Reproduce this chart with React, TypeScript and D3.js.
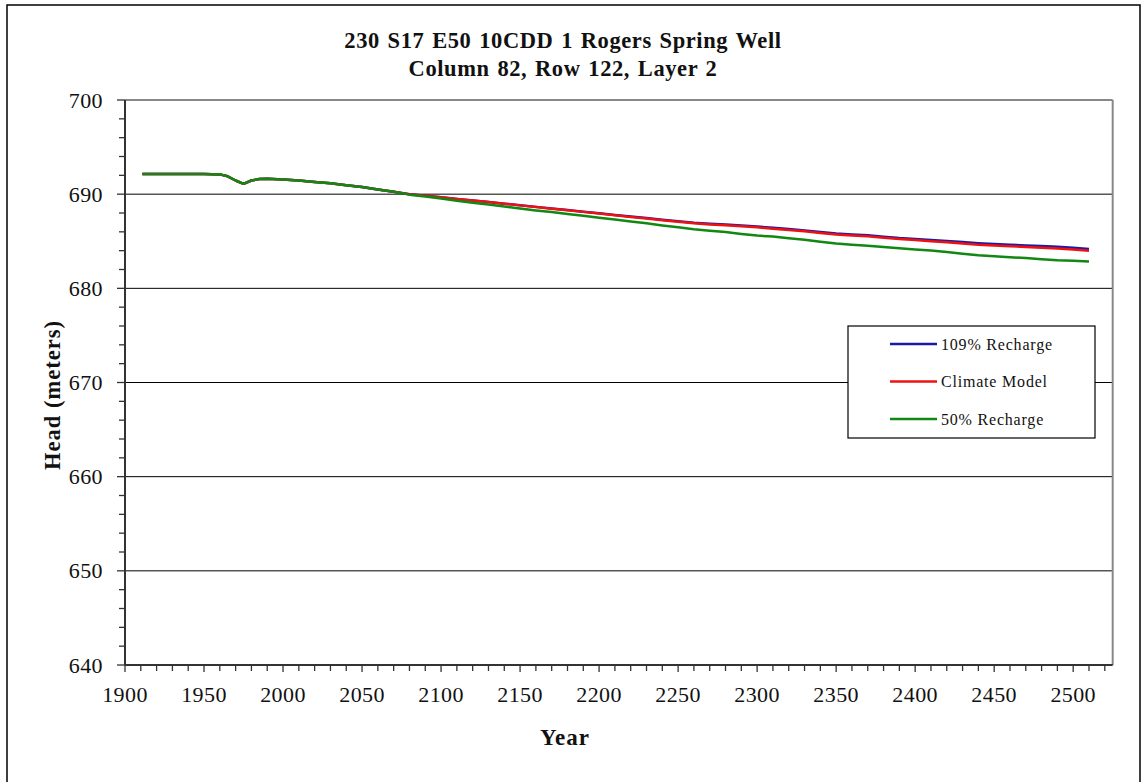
import React from "react";
import * as d3 from "d3";

const years = [1911, 1920, 1930, 1940, 1950, 1960, 1965, 1970, 1975, 1980, 1985, 1990, 2000,
  2010, 2020, 2030, 2040, 2050, 2060, 2070, 2080, 2090, 2100, 2110, 2120, 2130, 2140, 2150,
  2160, 2170, 2180, 2190, 2200, 2210, 2220, 2230, 2240, 2250, 2260, 2270, 2280, 2290, 2300,
  2310, 2320, 2330, 2340, 2350, 2360, 2370, 2380, 2390, 2400, 2410, 2420, 2430, 2440, 2450,
  2460, 2470, 2480, 2490, 2500, 2510];

const recharge109 = [692.15, 692.15, 692.15, 692.15, 692.15, 692.1, 691.9, 691.45, 691.1, 691.45, 691.6, 691.65, 691.55,
  691.45, 691.3, 691.15, 690.95, 690.75, 690.5, 690.25, 690.0, 689.83, 689.66, 689.5, 689.33, 689.16, 688.99, 688.82,
  688.65, 688.48, 688.31, 688.14, 687.97, 687.8, 687.63, 687.46, 687.29, 687.12, 686.97, 686.86, 686.77, 686.67, 686.56,
  686.43, 686.29, 686.15, 685.98, 685.82, 685.73, 685.63, 685.49, 685.35, 685.25, 685.14, 685.03, 684.91, 684.8, 684.72,
  684.64, 684.56, 684.49, 684.41, 684.3, 684.17];

const climateModel = [692.15, 692.15, 692.15, 692.15, 692.15, 692.1, 691.9, 691.45, 691.1, 691.45, 691.6, 691.65, 691.55,
  691.45, 691.3, 691.15, 690.95, 690.75, 690.5, 690.25, 690.0, 689.83, 689.66, 689.5, 689.33, 689.16, 688.99, 688.81,
  688.63, 688.46, 688.29, 688.12, 687.94, 687.76, 687.58, 687.41, 687.23, 687.06, 686.9, 686.79, 686.69, 686.59, 686.48,
  686.34, 686.2, 686.06, 685.88, 685.72, 685.62, 685.52, 685.38, 685.23, 685.13, 685.01, 684.89, 684.76, 684.64, 684.56,
  684.47, 684.39, 684.31, 684.23, 684.12, 683.99];

const recharge50 = [692.15, 692.15, 692.15, 692.15, 692.15, 692.1, 691.9, 691.45, 691.1, 691.45, 691.6, 691.65, 691.55,
  691.45, 691.3, 691.15, 690.95, 690.75, 690.5, 690.25, 689.95, 689.75, 689.53, 689.3, 689.1, 688.9, 688.68, 688.47,
  688.27, 688.1, 687.9, 687.7, 687.5, 687.3, 687.1, 686.9, 686.68, 686.48, 686.28, 686.12, 685.97, 685.78, 685.6,
  685.5, 685.33, 685.15, 684.95, 684.75, 684.64, 684.52, 684.38, 684.25, 684.13, 684.01, 683.85, 683.68, 683.52, 683.4,
  683.3, 683.22, 683.1, 682.98, 682.92, 682.84];

const seriesNames = ["109% Recharge", "Climate Model", "50% Recharge"];
const seriesColors = ["#1a1aa8", "#ee1111", "#118811"];
const seriesValues = [recharge109, climateModel, recharge50];

const xTickLabels = [1900, 1950, 2000, 2050, 2100, 2150, 2200, 2250, 2300, 2350, 2400, 2450, 2500];
const yTickLabels = [640, 650, 660, 670, 680, 690, 700];

const titleLines = ["230 S17 E50 10CDD 1 Rogers Spring Well", "Column 82, Row 122, Layer 2"];

export default function App() {
  const W = 1148, H = 782;
  const left = 125, right = 1112.7, top = 100, bottom = 665;
  const x = d3.scaleLinear().domain([1900, 2525]).range([left, right]);
  const y = d3.scaleLinear().domain([640, 700]).range([bottom, top]);
  const font = "'Liberation Serif', 'Times New Roman', serif";

  const line = d3.line<[number, number]>().x(d => x(d[0])).y(d => y(d[1]));

  const minorX = d3.range(1900, 2521, 10);
  const minorY = d3.range(640, 701, 2);

  return (
    <svg width={W} height={H} style={{ position: "absolute", left: 0, top: 0, background: "#fff" }}
      fontFamily={font}>
      <rect x={7} y={5} width={1133} height={800} fill="#fff" stroke="#000" strokeWidth={1.5} />
      {yTickLabels.filter(v => v > 640 && v < 700).map(v => (
        <line key={"g" + v} x1={left} x2={right} y1={y(v)} y2={y(v)} stroke="#000" strokeWidth={1} />
      ))}
      <line x1={left} x2={right} y1={top} y2={top} stroke="#888" strokeWidth={2} />
      <line x1={right} x2={right} y1={top} y2={bottom} stroke="#888" strokeWidth={2} />
      {seriesValues.map((vals, i) => (
        <path key={seriesNames[i]} d={line(years.map((yr, j) => [yr, vals[j]] as [number, number])) || ""}
          fill="none" stroke={seriesColors[i]} strokeWidth={2.5} strokeLinejoin="round" />
      ))}
      <line x1={left} x2={left} y1={top} y2={bottom} stroke="#333" strokeWidth={2} />
      <line x1={left} x2={right} y1={bottom} y2={bottom} stroke="#333" strokeWidth={2} />
      {minorX.map(v => (
        <line key={"tx" + v} x1={x(v)} x2={x(v)} y1={bottom} y2={bottom + (v % 50 === 0 ? 7 : 6)} stroke="#333" strokeWidth={1.3} />
      ))}
      {minorY.map(v => (
        <line key={"ty" + v} x1={left - (v % 10 === 0 ? 8 : 6)} x2={left} y1={y(v)} y2={y(v)} stroke="#333" strokeWidth={1.3} />
      ))}
      {xTickLabels.map(v => (
        <text key={"lx" + v} x={x(v)} y={702} textAnchor="middle" fontSize={22} letterSpacing={0.4} fill="#111">{v}</text>
      ))}
      {yTickLabels.map(v => (
        <text key={"ly" + v} x={103} y={y(v) + 7.5} textAnchor="end" fontSize={22} letterSpacing={0.4} fill="#111">{v}</text>
      ))}
      {titleLines.map((t, i) => (
        <text key={"t" + i} x={563} y={48 + i * 28} textAnchor="middle" fontSize={22.5} fontWeight="bold"
          letterSpacing={0.6} wordSpacing={1.5} fill="#111">{t}</text>
      ))}
      <text x={565} y={745} textAnchor="middle" fontSize={23} fontWeight="bold" letterSpacing={1} fill="#111">Year</text>
      <text transform={`translate(60,395) rotate(-90)`} textAnchor="middle" fontSize={22.5} fontWeight="bold"
        letterSpacing={1} fill="#111">Head (meters)</text>
      <rect x={848} y={326} width={247} height={112} fill="#fff" stroke="#000" strokeWidth={1.2} />
      {seriesNames.map((n, i) => (
        <g key={"lg" + n}>
          <line x1={890} x2={937} y1={344 + i * 37.5} y2={344 + i * 37.5} stroke={seriesColors[i]} strokeWidth={2.5} />
          <text x={941} y={344 + i * 37.5 + 5.5} fontSize={16} fill="#111" letterSpacing={0.8}>{n}</text>
        </g>
      ))}
    </svg>
  );
}
